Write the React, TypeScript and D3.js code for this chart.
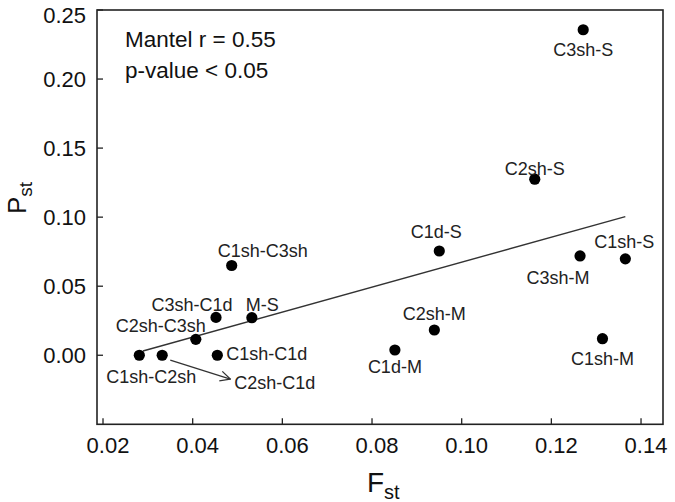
import React from "react";
import * as d3 from "d3";

// ---- data ----
const pairNames = [
  "C3sh-S", "C2sh-S", "C1d-S", "C3sh-M", "C1sh-S", "C2sh-M", "C1d-M", "C1sh-M",
  "C1sh-C3sh", "C3sh-C1d", "M-S", "C2sh-C3sh", "C1sh-C1d", "C1sh-C2sh", "C2sh-C1d",
];
const fstValues = [
  0.1271, 0.1163, 0.0950, 0.1264, 0.1365, 0.0939, 0.0851, 0.1314,
  0.0487, 0.0452, 0.0532, 0.0407, 0.0455, 0.0281, 0.0332,
];
const pstValues = [
  0.2357, 0.1275, 0.0755, 0.0719, 0.0698, 0.0183, 0.0038, 0.0120,
  0.0650, 0.0274, 0.0272, 0.0115, 0.0000, 0.0000, 0.0000,
];
const xTicks = [0.02, 0.04, 0.06, 0.08, 0.1, 0.12, 0.14];
const yTicks = [0.0, 0.05, 0.1, 0.15, 0.2, 0.25];
const trendFst = [0.0289, 0.1365];
const trendSlope = 0.905;
const trendIntercept = -0.0231;
const arrowFrom = [0.035, -0.0036];
const arrowTo = [0.0484, -0.0173];
const annotationLines = ["Mantel r = 0.55", "p-value < 0.05"];

// ---- layout (label offsets relative to point, px) ----
const labelLayout: Record<string, { dx: number; dy: number; anchor: string }> = {
  "C3sh-S": { dx: 0, dy: 26, anchor: "middle" },
  "C2sh-S": { dx: 0, dy: -4, anchor: "middle" },
  "C1d-S": { dx: -3, dy: -13, anchor: "middle" },
  "C3sh-M": { dx: -22, dy: 28, anchor: "middle" },
  "C1sh-S": { dx: -1, dy: -11, anchor: "middle" },
  "C2sh-M": { dx: 0, dy: -10, anchor: "middle" },
  "C1d-M": { dx: 0, dy: 23, anchor: "middle" },
  "C1sh-M": { dx: 0, dy: 26, anchor: "middle" },
  "C1sh-C3sh": { dx: 31, dy: -8, anchor: "middle" },
  "C3sh-C1d": { dx: -24, dy: -6, anchor: "middle" },
  "M-S": { dx: -6, dy: -7, anchor: "start" },
  "C2sh-C3sh": { dx: -35, dy: -7, anchor: "middle" },
  "C1sh-C1d": { dx: 9, dy: 5, anchor: "start" },
  "C1sh-C2sh": { dx: 12, dy: 28, anchor: "middle" },
  "C2sh-C1d": { dx: 72, dy: 34, anchor: "start" },
};

const W = 675;
const H = 502;
const left = 97;
const right = 663;
const top = 10;
const bottom = 424.3;
const FONT = "'Liberation Sans', Arial, Helvetica, sans-serif";

export default function App() {
  const x = d3.scaleLinear().domain([0.01866, 0.1449]).range([left, right]);
  const y = d3.scaleLinear().domain([-0.05, 0.25]).range([bottom, top]);
  const trendLine = d3
    .line<number>()
    .x((v) => x(v))
    .y((v) => y(trendIntercept + trendSlope * v));

  return (
    <svg
      width={W}
      height={H}
      style={{ position: "absolute", left: 0, top: 0, background: "#fff" }}
      fontFamily={FONT}
    >
      <defs>
        <marker
          id="openArrow"
          viewBox="0 0 12 12"
          refX={11}
          refY={6}
          markerWidth={12}
          markerHeight={12}
          markerUnits="userSpaceOnUse"
          orient="auto"
        >
          <path d="M1,1 L11,6 L1,11" fill="none" stroke="#333" strokeWidth={1.3} />
        </marker>
      </defs>
      <rect x={0} y={0} width={W} height={H} fill="#fff" />

      {/* frame */}
      <rect
        x={left}
        y={top}
        width={right - left}
        height={bottom - top}
        fill="none"
        stroke="#222"
        strokeWidth={1.6}
      />

      {/* y ticks */}
      {yTicks.map((t) => (
        <g key={"y" + t}>
          <line x1={left} x2={left + 6} y1={y(t)} y2={y(t)} stroke="#222" strokeWidth={1.3} />
          <text
            x={86}
            y={Math.max(y(t), 15) + 7.8}
            textAnchor="end"
            fontSize={22}
            fill="#111"
          >
            {d3.format(".2f")(t)}
          </text>
        </g>
      ))}

      {/* x ticks */}
      {xTicks.map((t) => (
        <g key={"x" + t}>
          <line x1={x(t)} x2={x(t)} y1={bottom} y2={bottom - 6} stroke="#222" strokeWidth={1.3} />
          <text x={x(t) + 5} y={452.5} textAnchor="middle" fontSize={22} fill="#111">
            {d3.format(".2f")(t)}
          </text>
        </g>
      ))}

      {/* axis titles */}
      <text x={367} y={492} fontSize={28} fill="#111">
        F<tspan fontSize={20} dy={6.5}>st</tspan>
      </text>
      <text
        transform="translate(26,214) rotate(-90)"
        x={0}
        y={0}
        fontSize={26}
        fill="#111"
      >
        P<tspan fontSize={19} dy={6}>st</tspan>
      </text>

      {/* annotation */}
      {annotationLines.map((s, i) => (
        <text key={s} x={125} y={47 + i * 30.5} fontSize={22.5} fill="#111">
          {s}
        </text>
      ))}

      {/* trend line */}
      <path d={trendLine(trendFst) || ""} fill="none" stroke="#333" strokeWidth={1.4} />

      {/* arrow */}
      <line
        x1={x(arrowFrom[0])}
        y1={y(arrowFrom[1])}
        x2={x(arrowTo[0])}
        y2={y(arrowTo[1])}
        stroke="#333"
        strokeWidth={1.3}
        markerEnd="url(#openArrow)"
      />

      {/* points */}
      {pairNames.map((n, i) => (
        <circle key={"c" + n} cx={x(fstValues[i])} cy={y(pstValues[i])} r={5.6} fill="#000" />
      ))}

      {/* labels */}
      {pairNames.map((n, i) => {
        const l = labelLayout[n];
        return (
          <text
            key={"t" + n}
            x={x(fstValues[i]) + l.dx}
            y={y(pstValues[i]) + l.dy}
            textAnchor={l.anchor as any}
            fontSize={18}
            fill="#222"
          >
            {n}
          </text>
        );
      })}
    </svg>
  );
}
